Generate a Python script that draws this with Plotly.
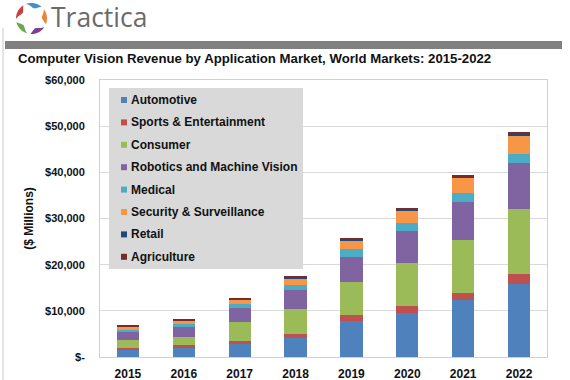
import math
import plotly.graph_objects as go

years = ["2015", "2016", "2017", "2018", "2019", "2020", "2021", "2022"]
automotive = [1600, 2000, 2900, 4100, 7800, 9500, 12300, 15800]
sports = [400, 500, 600, 800, 1200, 1600, 1600, 2200]
consumer = [1700, 1800, 4050, 5600, 7300, 9200, 11400, 14100]
robotics = [1800, 2200, 3000, 4000, 5400, 7000, 8200, 9900]
medical = [450, 700, 950, 1150, 1600, 1750, 2000, 2000]
security = [600, 650, 850, 1300, 2000, 2700, 3300, 4000]
retail = [90, 150, 200, 200, 220, 270, 290, 310]
agriculture = [110, 200, 250, 250, 280, 330, 360, 390]

series_names = ["Automotive", "Sports & Entertainment", "Consumer",
                "Robotics and Machine Vision", "Medical",
                "Security & Surveillance", "Retail", "Agriculture"]
series_values = [automotive, sports, consumer, robotics, medical,
                 security, retail, agriculture]
series_colors = ["#4F81BD", "#C0504D", "#9BBB59", "#8064A2", "#4BACC6",
                 "#F79646", "#1F497D", "#772C2A"]

y_tickvals = [0, 10000, 20000, 30000, 40000, 50000, 60000]
y_ticktext = ["$-", "$10,000", "$20,000", "$30,000", "$40,000",
              "$50,000", "$60,000"]

W, H = 570, 380
ML, MR, MT, MB = 100, 23, 80, 23
PW = W - ML - MR
PH = H - MT - MB
FONT = "Liberation Sans, Arial, sans-serif"


def px(x):
    return (x - ML) / PW


def py(y):
    return (H - MB - y) / PH


fig = go.Figure()
for name, vals, col in zip(series_names, series_values, series_colors):
    fig.add_trace(go.Bar(
        x=years, y=vals, name=name,
        marker=dict(color=col, line=dict(width=0)),
        showlegend=False,
    ))

shapes = []
annotations = []
# gray banner
shapes.append(dict(type="rect", xref="paper", yref="paper",
                   x0=px(5), x1=px(562), y0=py(49), y1=py(41),
                   fillcolor="#808080", line=dict(width=0), layer="above"))
# left frame line
shapes.append(dict(type="line", xref="paper", yref="paper",
                   x0=px(3), x1=px(3), y0=py(28), y1=py(380),
                   line=dict(color="#c8c8c8", width=1)))

# logo petals
cx, cy, R = 31.5, 18.5, 15.5
logo_cols = ["#C9413C", "#4A8CC7", "#E8863A", "#7E3F8F", "#6AA84F"]
centers = [-152, -80, -8, 64, 136]
for c, col in zip(centers, logo_cols):
    a1, a2 = math.radians(c - 30), math.radians(c + 30)
    n = 16
    pts = []
    for k in range(n + 1):
        t = k / n
        a = a1 + (a2 - a1) * t
        pts.append((cx + R * math.cos(a), cy + R * math.sin(a)))
    for k in range(n, -1, -1):
        t = k / n
        a = a1 + (a2 - a1) * t
        th = 5.5 * math.sin(math.pi * t) * (0.6 + 0.6 * t)
        r = R - th
        pts.append((cx + r * math.cos(a), cy + r * math.sin(a)))
    path = "M " + " L ".join(f"{px(x):.5f},{py(y):.5f}" for x, y in pts) + " Z"
    shapes.append(dict(type="path", xref="paper", yref="paper", path=path,
                       fillcolor=col, line=dict(width=0)))

# legend (drawn manually to match the original's compact layout)
shapes.append(dict(type="rect", xref="paper", yref="paper",
                   x0=px(109), x1=px(303), y0=py(269), y1=py(88),
                   fillcolor="#d9d9d9", line=dict(width=0), layer="above"))
for i, (name, col) in enumerate(zip(series_names, series_colors)):
    yc = 100 + i * 22.4
    shapes.append(dict(type="rect", xref="paper", yref="paper",
                       x0=px(121), x1=px(127), y0=py(yc + 3), y1=py(yc - 3),
                       fillcolor=col, line=dict(width=0), layer="above"))
    annotations.append(dict(text=name, xref="paper", yref="paper",
                            x=px(128.5), y=py(yc), xanchor="left", yanchor="middle",
                            showarrow=False,
                            font=dict(family=FONT, size=12, color="#111111",
                                      weight="bold")))

annotations += [
    dict(text="Tractica", xref="paper", yref="paper", x=px(49), y=py(17),
         xanchor="left", yanchor="middle", showarrow=False,
         font=dict(family="Open Sans, sans-serif", size=26.5, color="#6b6b6b")),
    dict(text="Computer Vision Revenue by Application Market, World Markets: 2015-2022",
         xref="paper", yref="paper", x=px(16), y=py(58),
         xanchor="left", yanchor="middle", showarrow=False,
         font=dict(family=FONT, size=13.2, color="#111111", weight="bold")),
]

fig.update_layout(
    width=W, height=H,
    margin=dict(l=ML, r=MR, t=MT, b=MB, autoexpand=False),
    paper_bgcolor="white", plot_bgcolor="white",
    barmode="stack", bargap=0.6,
    font=dict(family=FONT, color="#111111"),
    shapes=shapes, annotations=annotations,
    showlegend=False,
    xaxis=dict(showline=True, linecolor="#d0d0d0", mirror=True, automargin=False,
               ticks="", tickfont=dict(family=FONT, size=12, weight="bold"),
               ticklabelstandoff=6),
    yaxis=dict(range=[0, 60000], tickvals=y_tickvals, ticktext=y_ticktext,
               showgrid=True, gridcolor="#d9d9d9", gridwidth=1,
               showline=True, linecolor="#d0d0d0", mirror=True, automargin=False,
               zeroline=False, ticks="",
               tickfont=dict(family=FONT, size=11, weight="bold"),
               ticklabelstandoff=12,
               title=dict(text="($ Millions)", standoff=8,
                          font=dict(family=FONT, size=12, weight="bold"))),
)

fig.write_html("out.html",
               config={"displayModeBar": False},
               post_script="document.body.style.margin='0px';"
                           "document.body.style.overflow='hidden';")
